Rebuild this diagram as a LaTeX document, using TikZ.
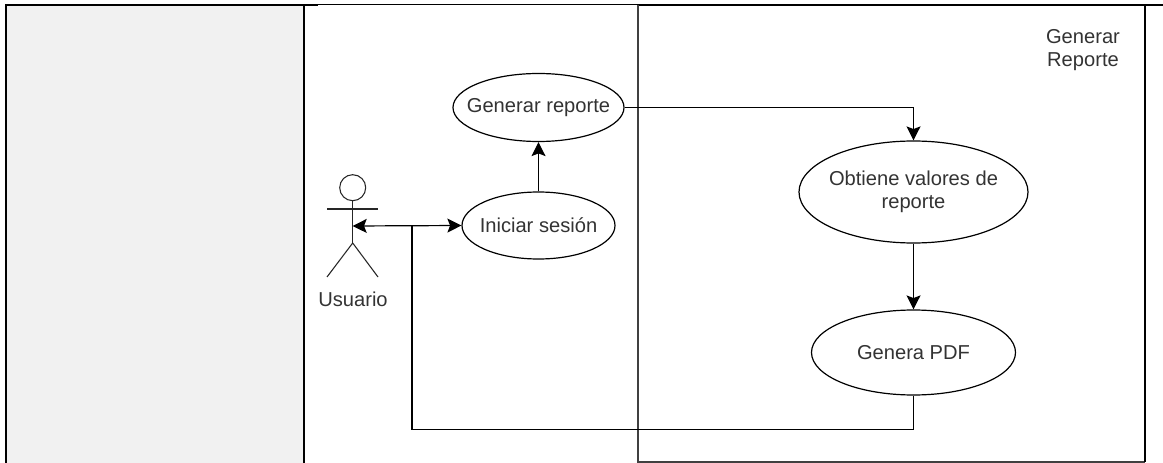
\documentclass[tikz,border=0pt]{standalone}
\usepackage{fontspec}
\setmainfont{Liberation Sans}
\usetikzlibrary{arrows.meta,shapes.geometric}
\definecolor{txt}{HTML}{333333}
\definecolor{panel}{HTML}{F1F1F1}
\tikzset{
  uc/.style n args={2}{draw=black,line width=0.9pt,ellipse,inner xsep=-20pt,inner ysep=-5pt,text=txt,font=\fontsize{15.1}{17.25}\selectfont,align=center,minimum width=#1*0.75pt,minimum height=#2*0.75pt},
  lbl/.style={text=txt,font=\fontsize{15.1}{17.25}\selectfont,align=center,inner sep=0pt},
  tip/.tip={Stealth[length=10.5pt,width=10.5pt,inset=2pt]},
  conn/.style={draw=black,line width=0.9pt,-tip},
  plain/.style={draw=black,line width=0.9pt},
  actorline/.style={draw=black!85,line width=0.8pt}
}
\begin{document}
\begin{tikzpicture}[x=0.75pt,y=-0.75pt]
\useasboundingbox (0,0) rectangle (1163,463);
\fill[white] (0,0) rectangle (1163,463);
\fill[panel] (6,5) rectangle (304,463);
\draw[black,line width=1.5pt] (6,463) -- (6,5) -- (318,5);
\draw[black,line width=1.3pt] (304,5) -- (304,463);
\draw[black,line width=0.8pt] (318,4.7) -- (638,4.7);
\draw[black,line width=1.5pt] (638,5) -- (1145,5);
\draw[black,line width=0.8pt] (1145,5) -- (1163,5);
\draw[black!75,line width=1pt] (638,5) -- (638,462) -- (1145,462);
\draw[black,line width=1pt] (1145,5) -- (1145,462);
\node[lbl] (title) at (1083,50) {Generar\\Reporte};
% actor
\node[draw=black!85,line width=0.8pt,circle,minimum size=19.5pt,inner sep=0pt] (head) at (352.7,187.7) {};
\coordinate (hip) at (352.7,243);
\coordinate (handL) at (327,209);
\coordinate (handR) at (378,209);
\coordinate (footL) at (327,277);
\coordinate (footR) at (378,277);
\coordinate (chest) at (352.7,226);
\draw[actorline] (head.south) -- (hip);
\draw[actorline] (handL) -- (handR);
\draw[actorline] (footL) -- (hip) -- (footR);
\node[lbl] (usuario) at (353,299) {Usuario};
% use cases
\node[uc={171}{68}] (rep) at (538.5,107.5) {Generar reporte};
\node[uc={153}{67}] (ini) at (538.5,225.5) {Iniciar sesión};
\node[uc={229}{102}] (obt) at (913.5,192) {Obtiene valores de\\reporte};
\node[uc={204}{85}] (pdf) at (913.5,352.5) {Genera PDF};
\coordinate (branch) at (412,226);
\coordinate (corner) at (412,429.4);
\coordinate (cornerR) at (913.5,429.4);
\coordinate (turn) at (913.5,107.5);
% connectors
\draw[conn] (ini) -- (rep);
\draw[conn] (rep.east) -- (turn) -- (obt.north);
\draw[conn] (obt) -- (pdf);
\draw[conn,tip-tip] (chest) -- (ini.west);
\draw[plain] (pdf.south) -- (cornerR) -- (corner) -- (branch);
\end{tikzpicture}
\end{document}
